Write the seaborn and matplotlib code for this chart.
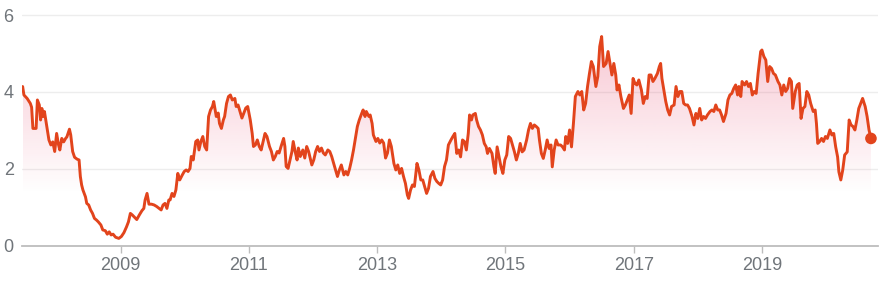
import numpy as np
import pandas as pd
import matplotlib
matplotlib.use("Agg")
import matplotlib.pyplot as plt
from matplotlib.patches import PathPatch
from matplotlib.colors import to_rgb
import seaborn as sns

# ---- data (decimal year, value) ----
yr_2007 = [2007.47, 2007.49, 2007.54, 2007.59, 2007.61, 2007.63, 2007.68, 2007.70, 2007.73, 2007.75,
           2007.77, 2007.79, 2007.81, 2007.84, 2007.88, 2007.91, 2007.94, 2007.97, 2008.00, 2008.03,
           2008.05, 2008.08, 2008.11, 2008.14, 2008.16, 2008.20, 2008.22, 2008.25, 2008.28, 2008.32,
           2008.35, 2008.37, 2008.39, 2008.41, 2008.45, 2008.47, 2008.50, 2008.53, 2008.56, 2008.59,
           2008.62, 2008.65, 2008.69, 2008.72, 2008.76, 2008.79, 2008.82, 2008.85, 2008.88, 2008.92,
           2008.97, 2009.01, 2009.05, 2009.09, 2009.12, 2009.15, 2009.18, 2009.22, 2009.25, 2009.29,
           2009.33, 2009.36, 2009.38, 2009.41, 2009.44, 2009.48, 2009.52, 2009.56, 2009.60, 2009.63,
           2009.66, 2009.69, 2009.72, 2009.75]
val_2007 = [4.14, 3.92, 3.83, 3.70, 3.60, 3.05, 3.05, 3.79, 3.66, 3.27,
            3.57, 3.36, 3.49, 3.18, 2.75, 2.62, 2.70, 2.45, 2.92, 2.62,
            2.49, 2.79, 2.70, 2.79, 2.83, 3.03, 2.88, 2.45, 2.30, 2.25,
            2.23, 1.80, 1.58, 1.45, 1.27, 1.10, 1.06, 0.93, 0.84, 0.71,
            0.67, 0.62, 0.54, 0.41, 0.39, 0.30, 0.36, 0.28, 0.30, 0.22,
            0.19, 0.24, 0.34, 0.49, 0.62, 0.84, 0.80, 0.73, 0.68, 0.80,
            0.91, 0.97, 1.19, 1.36, 1.08, 1.08, 1.06, 1.02, 0.97, 0.93,
            1.06, 1.10, 0.97, 1.19]

yr_2009 = [2009.77, 2009.80, 2009.83, 2009.86, 2009.89, 2009.92, 2009.96, 2009.99, 2010.02, 2010.05,
           2010.08, 2010.10, 2010.13, 2010.17, 2010.20, 2010.22, 2010.25, 2010.28, 2010.31, 2010.34,
           2010.37, 2010.40, 2010.43, 2010.45, 2010.49, 2010.52, 2010.54, 2010.57, 2010.60, 2010.62,
           2010.65, 2010.68, 2010.71, 2010.74, 2010.78, 2010.80, 2010.83, 2010.86, 2010.89, 2010.92,
           2010.95, 2010.98, 2011.02, 2011.05, 2011.07, 2011.10, 2011.13, 2011.16, 2011.19, 2011.22,
           2011.25, 2011.28, 2011.32, 2011.35, 2011.38, 2011.41, 2011.44, 2011.47, 2011.50, 2011.54,
           2011.56, 2011.58, 2011.61, 2011.64, 2011.67, 2011.69, 2011.72, 2011.75, 2011.77, 2011.80,
           2011.84, 2011.87, 2011.90, 2011.93]
val_2009 = [1.19, 1.36, 1.28, 1.45, 1.88, 1.71, 1.84, 1.93, 1.97, 1.93,
            2.01, 2.32, 2.23, 2.71, 2.75, 2.49, 2.71, 2.84, 2.58, 2.49,
            3.36, 3.53, 3.62, 3.75, 3.36, 3.45, 3.18, 3.05, 3.27, 3.36,
            3.70, 3.88, 3.92, 3.79, 3.83, 3.62, 3.66, 3.49, 3.32, 3.45,
            3.58, 3.62, 3.27, 2.92, 2.58, 2.62, 2.75, 2.58, 2.49, 2.71,
            2.92, 2.84, 2.58, 2.45, 2.23, 2.32, 2.45, 2.41, 2.58, 2.79,
            2.58, 2.06, 2.01, 2.23, 2.45, 2.71, 2.45, 2.23, 2.54, 2.32,
            2.49, 2.28, 2.58, 2.45]

yr_2012 = [2011.98, 2012.01, 2012.04, 2012.07, 2012.10, 2012.13, 2012.16, 2012.19, 2012.23, 2012.26,
           2012.29, 2012.32, 2012.35, 2012.38, 2012.41, 2012.44, 2012.48, 2012.51, 2012.54, 2012.57,
           2012.60, 2012.63, 2012.66, 2012.69, 2012.72, 2012.76, 2012.78, 2012.81, 2012.83, 2012.87,
           2012.89, 2012.92, 2012.94, 2012.98, 2013.01, 2013.04, 2013.07, 2013.10, 2013.13, 2013.16,
           2013.19, 2013.22, 2013.26, 2013.29, 2013.32, 2013.35, 2013.38, 2013.41, 2013.44, 2013.47,
           2013.49, 2013.52, 2013.55, 2013.58, 2013.62, 2013.65, 2013.68, 2013.71, 2013.74, 2013.77,
           2013.80, 2013.83, 2013.87, 2013.90, 2013.93, 2013.96, 2013.99, 2014.02, 2014.05, 2014.08,
           2014.11, 2014.15, 2014.18, 2014.21]
val_2012 = [2.10, 2.23, 2.45, 2.58, 2.45, 2.54, 2.41, 2.36, 2.49, 2.45,
            2.32, 2.14, 1.97, 1.80, 1.97, 2.10, 1.84, 1.93, 1.84, 2.01,
            2.23, 2.49, 2.79, 3.10, 3.27, 3.45, 3.53, 3.36, 3.49, 3.36,
            3.40, 3.18, 2.88, 2.71, 2.79, 2.67, 2.75, 2.67, 2.28, 2.41,
            2.75, 2.58, 2.14, 1.97, 2.10, 1.88, 2.01, 1.80, 1.62, 1.32,
            1.23, 1.45, 1.58, 1.54, 2.14, 1.97, 1.71, 1.71, 1.54, 1.36,
            1.49, 1.80, 1.93, 1.75, 1.67, 1.62, 1.58, 1.71, 2.06, 2.23,
            2.62, 2.75, 2.84, 2.92]

yr_2014 = [2014.24, 2014.27, 2014.30, 2014.33, 2014.36, 2014.39, 2014.42, 2014.44, 2014.47, 2014.49,
           2014.53, 2014.55, 2014.58, 2014.61, 2014.64, 2014.67, 2014.70, 2014.72, 2014.75, 2014.79,
           2014.82, 2014.84, 2014.87, 2014.90, 2014.93, 2014.96, 2014.99, 2015.02, 2015.05, 2015.08,
           2015.11, 2015.14, 2015.17, 2015.20, 2015.23, 2015.26, 2015.29, 2015.33, 2015.36, 2015.39,
           2015.42, 2015.45, 2015.48, 2015.51, 2015.53, 2015.56, 2015.59, 2015.62, 2015.65, 2015.68,
           2015.71, 2015.73, 2015.76, 2015.79, 2015.82, 2015.86, 2015.89, 2015.92, 2015.94, 2015.97,
           2016.00, 2016.03, 2016.06, 2016.09, 2016.13, 2016.16, 2016.19, 2016.22, 2016.25, 2016.28,
           2016.31, 2016.34, 2016.37, 2016.41, 2016.44, 2016.47]
val_2014 = [2.40, 2.49, 2.31, 2.75, 2.71, 2.49, 2.92, 3.40, 3.27, 3.40,
            3.44, 3.27, 3.10, 3.01, 2.88, 2.66, 2.57, 2.40, 2.53, 2.40,
            2.05, 1.88, 2.57, 2.31, 2.05, 1.88, 2.23, 2.36, 2.84, 2.79,
            2.62, 2.44, 2.23, 2.40, 2.66, 2.44, 2.49, 2.75, 3.01, 3.18,
            3.05, 3.14, 3.10, 3.05, 2.75, 2.40, 2.27, 2.49, 2.75, 2.53,
            2.62, 2.05, 2.49, 2.75, 2.62, 2.62, 2.57, 2.49, 2.84, 2.66,
            3.01, 2.57, 3.18, 3.88, 4.01, 3.92, 4.01, 3.53, 3.70, 4.14,
            4.48, 4.79, 4.66, 4.14, 4.40, 5.18]

yr_2016 = [2016.50, 2016.53, 2016.57, 2016.60, 2016.63, 2016.66, 2016.69, 2016.72, 2016.74, 2016.77,
           2016.80, 2016.84, 2016.87, 2016.90, 2016.93, 2016.96, 2016.99, 2017.02, 2017.05, 2017.08,
           2017.12, 2017.15, 2017.18, 2017.21, 2017.24, 2017.27, 2017.30, 2017.33, 2017.37, 2017.40,
           2017.42, 2017.44, 2017.47, 2017.50, 2017.53, 2017.56, 2017.59, 2017.63, 2017.66, 2017.69,
           2017.72, 2017.75, 2017.78, 2017.81, 2017.84, 2017.87, 2017.91, 2017.94, 2017.97, 2018.00,
           2018.03, 2018.06, 2018.09, 2018.12, 2018.15, 2018.19, 2018.22, 2018.25, 2018.28, 2018.31,
           2018.34, 2018.37, 2018.40, 2018.44, 2018.47, 2018.50, 2018.53, 2018.56, 2018.59, 2018.62]
val_2016 = [5.44, 4.66, 4.74, 5.05, 4.74, 4.44, 4.74, 4.44, 4.05, 4.18,
            3.88, 3.57, 3.66, 3.79, 3.92, 3.44, 4.35, 4.22, 4.18, 4.31,
            4.05, 3.70, 3.88, 3.83, 4.44, 4.44, 4.27, 4.35, 4.48, 4.66,
            4.74, 4.35, 4.05, 3.75, 3.53, 3.40, 3.62, 3.66, 4.14, 3.88,
            4.01, 4.01, 3.70, 3.66, 3.66, 3.57, 3.36, 3.14, 3.44, 3.31,
            3.57, 3.27, 3.36, 3.31, 3.40, 3.49, 3.53, 3.49, 3.66, 3.53,
            3.53, 3.40, 3.23, 3.44, 3.79, 3.92, 3.96, 4.09, 4.18, 3.92]

yr_2018 = [2018.64, 2018.67, 2018.69, 2018.73, 2018.76, 2018.79, 2018.82, 2018.85, 2018.88, 2018.91,
           2018.94, 2018.98, 2019.00, 2019.03, 2019.06, 2019.09, 2019.12, 2019.15, 2019.18, 2019.21,
           2019.25, 2019.28, 2019.31, 2019.34, 2019.37, 2019.40, 2019.43, 2019.46, 2019.48, 2019.52,
           2019.55, 2019.58, 2019.61, 2019.64, 2019.67, 2019.70, 2019.73, 2019.76, 2019.80, 2019.83,
           2019.85, 2019.87, 2019.90, 2019.93, 2019.96, 2019.99, 2020.02, 2020.06, 2020.09, 2020.12,
           2020.15, 2020.18, 2020.20, 2020.23, 2020.26, 2020.29, 2020.33, 2020.36, 2020.39, 2020.42,
           2020.45, 2020.48, 2020.51, 2020.54, 2020.57, 2020.61, 2020.64, 2020.67, 2020.70]
val_2018 = [4.14, 3.88, 4.27, 4.18, 4.27, 4.14, 4.22, 3.92, 4.01, 3.96,
            4.48, 5.05, 5.09, 4.92, 4.83, 4.27, 4.66, 4.61, 4.48, 4.44,
            4.27, 4.18, 3.92, 4.18, 4.01, 4.09, 4.35, 4.27, 3.57, 4.01,
            4.18, 4.22, 3.31, 3.57, 3.62, 4.01, 3.92, 3.70, 3.49, 3.53,
            3.18, 2.66, 2.71, 2.79, 2.71, 2.84, 2.79, 3.01, 2.88, 2.92,
            2.57, 2.31, 1.92, 1.71, 1.97, 2.36, 2.44, 3.27, 3.14, 3.10,
            3.01, 3.27, 3.57, 3.70, 3.83, 3.62, 3.36, 3.01, 2.79]

y_ticks = [0, 2, 4, 6]
x_ticks = [2009, 2011, 2013, 2015, 2017, 2019]
x_tick_labels = ["2009", "2011", "2013", "2015", "2017", "2019"]

years = yr_2007 + yr_2009 + yr_2012 + yr_2014 + yr_2016 + yr_2018
values = val_2007 + val_2009 + val_2012 + val_2014 + val_2016 + val_2018
df = pd.DataFrame({"year": years, "value": values})

# ---- style ----
sns.set_style("white")
plt.rcParams["font.family"] = ["Liberation Sans", "DejaVu Sans"]

LINE = "#e2441c"
LABEL = "#70757a"

W, H = 891, 283
fig = plt.figure(figsize=(W / 100, H / 100), dpi=100)
y_top = 6.03
px_per_unit = (245.7 - 15) / 6
top_px = 245.7 - y_top * px_per_unit
ax = fig.add_axes([22 / W, 1 - 245.7 / H, (878 - 22) / W, (245.7 - top_px) / H])

# gradient fill under the line
poly = ax.fill_between(df["year"], df["value"], 0, facecolor="none", edgecolor="none")
clip = PathPatch(poly.get_paths()[0], transform=ax.transData, facecolor="none", edgecolor="none")
ax.add_patch(clip)
n = 400
ys = np.linspace(0, y_top, n)
alpha = np.clip((ys - 1.37) / (5.5 - 1.37), 0, 1) * 0.30
grad = np.zeros((n, 1, 4))
grad[:, 0, :3] = to_rgb("#e8436a")
grad[:, 0, 3] = alpha
im = ax.imshow(grad, extent=[df["year"].min(), df["year"].max(), 0, y_top],
               origin="lower", aspect="auto", zorder=1, interpolation="bilinear")
im.set_clip_path(clip)

sns.lineplot(data=df, x="year", y="value", color=LINE, linewidth=2.1, ax=ax, zorder=3)
last = df.iloc[[-1]]
sns.scatterplot(data=last, x="year", y="value", color=LINE, s=70, edgecolor="none",
                ax=ax, zorder=4)

ax.set_xlim(2007.46, 2020.81)
ax.set_ylim(0, y_top)
ax.set_xlabel("")
ax.set_ylabel("")
ax.set_yticks(y_ticks)
ax.set_yticklabels([str(v) for v in y_ticks])
ax.set_xticks(x_ticks)
ax.set_xticklabels(x_tick_labels)

ax.yaxis.grid(True, color="#ededed", linewidth=1.0)
ax.xaxis.grid(False)
for s in ["top", "right", "left"]:
    ax.spines[s].set_visible(False)
ax.spines["bottom"].set_color("#bdbdbd")
ax.spines["bottom"].set_linewidth(1.3)
ax.spines["bottom"].set_zorder(5)

ax.tick_params(axis="x", length=5, width=1.0, color="#bdbdbd", labelcolor=LABEL,
               labelsize=13, pad=3, direction="out", bottom=True)
ax.tick_params(axis="y", length=0, labelcolor=LABEL, labelsize=13, pad=6, left=False)

fig.savefig("out.png", dpi=100)
